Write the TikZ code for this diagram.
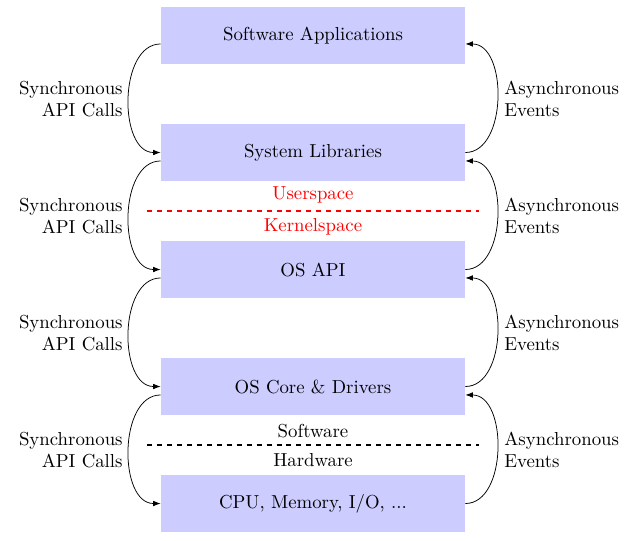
\documentclass[tikz,border=0pt]{standalone}
\usetikzlibrary{arrows.meta}
\begin{document}
\begin{tikzpicture}[x=0.5319pt,y=-0.5319pt,
  layer/.style={fill=blue!20,draw=none,inner sep=0pt,minimum width=161.7pt,minimum height=30.3pt},
  callarrow/.style={-{Latex[length=4pt,width=3pt]},thin},
  lbl/.style={align=right,anchor=east,inner sep=0pt},
  rlbl/.style={align=left,anchor=west,inner sep=0pt},
  sepline/.style={dash pattern=on 2.65pt off 2.65pt,line width=0.6pt}]
\useasboundingbox (0,0) rectangle (636,540);
\node[layer] (b1) at (313,35.5) {Software Applications};
\node[layer] (b2) at (313,152.5) {System Libraries};
\node[layer] (b3) at (313,269.5) {OS API};
\node[layer] (b4) at (313,386.5) {OS Core \& Drivers};
\node[layer] (b5) at (313,503.5) {CPU, Memory, I/O, ...};
\foreach \a/\b in {b1/b2,b2/b3,b3/b4,b4/b5}{
  \draw[callarrow] ([yshift=-4.5pt]\a.west) to[out=180,in=180] (\b.west);
  \draw[callarrow] (\b.east) to[out=0,in=0] ([yshift=-4.5pt]\a.east);
}
\foreach \y/\n in {99/1,216/2,333/3,450/4}{
  \node[lbl] (sl\n) at (123,\y) {Synchronous\\API Calls};
  \node[rlbl] (al\n) at (504,\y) {Asynchronous\\Events};
}
\coordinate (r1) at (147,211);
\coordinate (r2) at (479,211);
\draw[sepline,draw=red] (r1) -- (r2);
\node[text=red] (us) at (313,195) {Userspace};
\node[text=red] (ks) at (313,227) {Kernelspace};
\coordinate (k1) at (147,445);
\coordinate (k2) at (479,445);
\draw[sepline] (k1) -- (k2);
\node (sw) at (313,431.5) {Software};
\node (hw) at (313,460) {Hardware};
\end{tikzpicture}
\end{document}
